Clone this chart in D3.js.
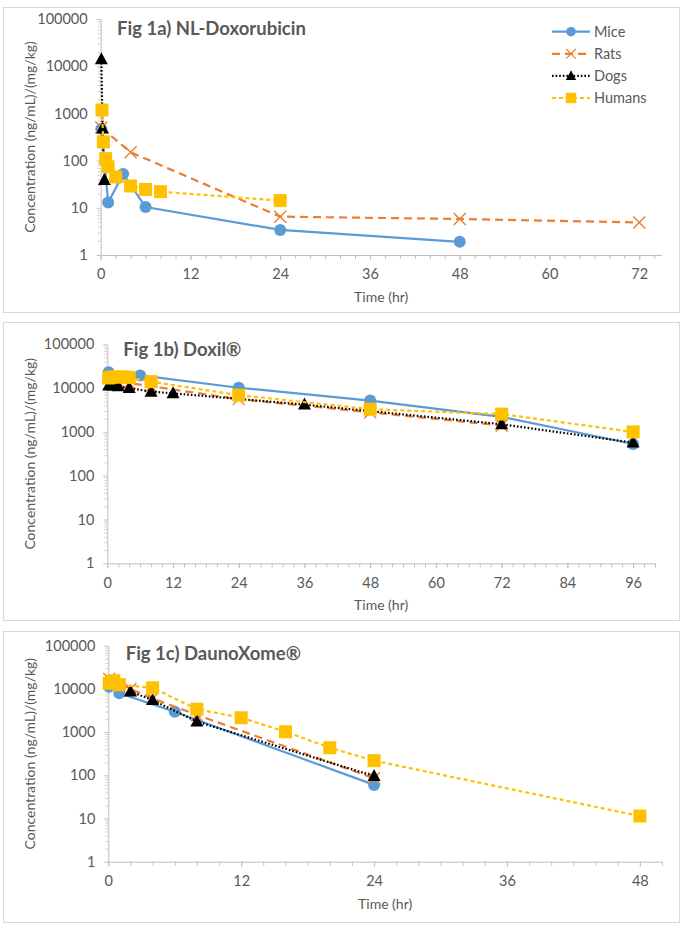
<!DOCTYPE html>
<html>
<head>
<meta charset="utf-8">
<script src="https://cdn.jsdelivr.net/npm/d3@7"></script>
<style>
  body { margin: 0; background: #fff; }
  svg text { font-family: Lato, "Open Sans", sans-serif; fill: #595959; }
</style>
</head>
<body>
<div id="chart"></div>
<script>
// Fig 1a) NL-Doxorubicin  -- [time (hr), concentration]
const nlDoxMice = [[0.083, 470], [1, 13], [3, 52], [6, 10.4], [24, 3.4], [48, 1.9]];
const nlDoxRats = [[0.083, 500], [4, 150], [24, 6.5], [48, 5.8], [72, 4.9]];
const nlDoxDogs = [[0.083, 14000], [0.25, 480], [0.5, 39]];
const nlDoxHumans = [[0.17, 1180], [0.35, 250], [0.67, 110], [1, 74], [2, 45], [4, 29], [6, 24.5], [8, 22], [24, 14.2]];

// Fig 1b) Doxil
const doxilMice = [[0.25, 23000], [6, 19500], [24, 10200], [48, 5200], [72, 2200], [96, 530]];
const doxilRats = [[0.25, 17000], [2, 14000], [4, 13000], [8, 11000], [24, 5600], [48, 2800], [72, 1400]];
const doxilDogs = [[0.25, 11500], [1, 11500], [2, 11000], [4, 10000], [8, 8300], [12, 7600], [36, 4200], [72, 1500], [96, 570]];
const doxilHumans = [[0.25, 17000], [0.5, 17500], [1, 18000], [2, 18000], [3, 18000], [4, 17500], [8, 14000], [24, 6900], [48, 3300], [72, 2550], [96, 1000]];

// Fig 1c) DaunoXome
const daunoMice = [[0.083, 11200], [1, 7900], [6, 2950], [24, 60]];
const daunoRats = [[0.083, 17000], [2, 10000], [4, 6000], [8, 2500], [24, 85]];
const daunoDogs = [[2, 8700], [4, 5500], [8, 1750], [24, 96]];
const daunoHumans = [[0.083, 13500], [0.5, 15500], [1, 12500], [4, 10600], [8, 3400], [12, 2150], [16, 1020], [20, 435], [24, 218], [48, 11.4]];

const speciesNames = ['Mice', 'Rats', 'Dogs', 'Humans'];
const yTickValues = [1, 10, 100, 1000, 10000, 100000];
const panelTitles = ['Fig 1a) NL-Doxorubicin', 'Fig 1b) Doxil®', 'Fig 1c) DaunoXome®'];
const xTickValuesA = [0, 12, 24, 36, 48, 60, 72];
const xTickValuesB = [0, 12, 24, 36, 48, 60, 72, 84, 96];
const xTickValuesC = [0, 12, 24, 36, 48];

const STYLES = {
  Mice: { color: '#5B9BD5', dash: null, width: 2.2, marker: 'circle' },
  Rats: { color: '#ED7D31', dash: '8,5', width: 2.2, marker: 'x' },
  Dogs: { color: '#000000', dash: '1.6,2', width: 2.2, marker: 'triangle' },
  Humans: { color: '#FFC000', dash: '4,3', width: 2.2, marker: 'square' }
};

const panels = [
  {
    title: panelTitles[0], box: [3, 7, 679, 312], xMax: 75, xTicks: xTickValuesA,
    plot: { left: 100.7, right: 661.7, top: 19, bottom: 255 },
    series: [nlDoxMice, nlDoxRats, nlDoxDogs, nlDoxHumans], legend: true,
    titlePos: [117, 34.5]
  },
  {
    title: panelTitles[1], box: [3, 322, 679, 620], xMax: 100, xTicks: xTickValuesB,
    plot: { left: 107.3, right: 655, top: 344.3, bottom: 563.3 },
    series: [doxilMice, doxilRats, doxilDogs, doxilHumans], legend: false,
    titlePos: [123.3, 356]
  },
  {
    title: panelTitles[2], box: [3, 631, 679, 922], xMax: 50, xTicks: xTickValuesC,
    plot: { left: 108.3, right: 662, top: 645.7, bottom: 861.7 },
    series: [daunoMice, daunoRats, daunoDogs, daunoHumans], legend: false,
    titlePos: [125.7, 660]
  }
];

const svg = d3.select('#chart').append('svg')
  .attr('width', 682)
  .attr('height', 925);

function drawMarker (sel, kind, color) {
  if (kind === 'circle') {
    sel.append('circle').attr('r', 6).attr('fill', color);
  } else if (kind === 'square') {
    sel.append('rect').attr('x', -6.5).attr('y', -6.5).attr('width', 13).attr('height', 13).attr('fill', color);
  } else if (kind === 'triangle') {
    sel.append('path').attr('d', 'M0,-7L6.5,5L-6.5,5Z').attr('fill', color);
  } else if (kind === 'x') {
    sel.append('path').attr('d', 'M-6,-6L6,6M-6,6L6,-6')
      .attr('stroke', color).attr('stroke-width', 1.4).attr('fill', 'none');
  }
}

panels.forEach((p) => {
  const g = svg.append('g');
  const [bx0, by0, bx1, by1] = p.box;

  g.append('rect')
    .attr('x', bx0 + 0.5).attr('y', by0 + 0.5)
    .attr('width', bx1 - bx0).attr('height', by1 - by0)
    .attr('fill', '#fff').attr('stroke', '#D9D9D9').attr('stroke-width', 1);

  const x = d3.scaleLinear().domain([0, p.xMax]).range([p.plot.left, p.plot.right]);
  const y = d3.scaleLog().domain([1, 100000]).range([p.plot.bottom, p.plot.top]);

  // minor ticks on x every 2 hr
  const xMinor = d3.range(0, p.xMax + 0.001, 2);
  g.append('g')
    .attr('transform', `translate(0,${p.plot.bottom})`)
    .call(d3.axisBottom(x).tickValues(xMinor).tickSize(4).tickFormat(''))
    .call((a) => a.select('.domain').remove())
    .call((a) => a.selectAll('line').attr('stroke', '#BFBFBF'));

  const xAxis = g.append('g')
    .attr('transform', `translate(0,${p.plot.bottom})`)
    .call(d3.axisBottom(x).tickValues(p.xTicks).tickSize(5).tickSizeOuter(0).tickPadding(9));
  xAxis.select('.domain').attr('stroke', '#BFBFBF');
  xAxis.selectAll('line').attr('stroke', '#BFBFBF');
  xAxis.selectAll('text').style('font-size', '14.5px').attr('fill', '#595959');

  // minor log ticks on y
  const yMinor = [];
  for (let d = 1; d < 100000; d *= 10) {
    for (let k = 2; k <= 9; k++) yMinor.push(d * k);
  }
  g.append('g')
    .attr('transform', `translate(${p.plot.left},0)`)
    .call(d3.axisLeft(y).tickValues(yMinor).tickSize(3).tickFormat(''))
    .call((a) => a.select('.domain').remove())
    .call((a) => a.selectAll('line').attr('stroke', '#D0D0D0'));

  const yAxis = g.append('g')
    .attr('transform', `translate(${p.plot.left},0)`)
    .call(d3.axisLeft(y).tickValues(yTickValues).tickSize(4).tickSizeOuter(0).tickPadding(9).tickFormat(d3.format('d')));
  yAxis.select('.domain').attr('stroke', '#BFBFBF');
  yAxis.selectAll('line').attr('stroke', '#BFBFBF');
  yAxis.selectAll('text').style('font-size', '14.5px').attr('fill', '#595959');

  // axis titles
  g.append('text')
    .attr('x', (p.plot.left + p.plot.right) / 2)
    .attr('y', p.plot.bottom + 47)
    .attr('text-anchor', 'middle')
    .style('font-size', '14px')
    .text('Time (hr)');

  g.append('text')
    .attr('transform', `translate(35,${(p.plot.top + p.plot.bottom) / 2})rotate(-90)`)
    .attr('text-anchor', 'middle')
    .style('font-size', '14px')
    .text('Concentration (ng/mL)/(mg/kg)');

  // chart title
  g.append('text')
    .attr('x', p.titlePos[0]).attr('y', p.titlePos[1])
    .style('font-size', '18.5px').style('font-weight', 'bold')
    .text(p.title);

  const line = d3.line().x((d) => x(d[0])).y((d) => y(d[1]));

  p.series.forEach((data, i) => {
    const st = STYLES[speciesNames[i]];
    const sg = g.append('g');
    sg.append('path')
      .datum(data)
      .attr('d', line)
      .attr('fill', 'none')
      .attr('stroke', st.color)
      .attr('stroke-width', st.width)
      .attr('stroke-dasharray', st.dash);
    sg.selectAll('g.mk')
      .data(data)
      .enter()
      .append('g')
      .attr('class', 'mk')
      .attr('transform', (d) => `translate(${x(d[0])},${y(d[1])})`)
      .each(function () { drawMarker(d3.select(this), st.marker, st.color); });
  });

  if (p.legend) {
    const lg = g.append('g');
    speciesNames.forEach((name, i) => {
      const st = STYLES[name];
      const yy = 31.7 + i * 22.1;
      lg.append('line')
        .attr('x1', 552).attr('x2', 590).attr('y1', yy).attr('y2', yy)
        .attr('stroke', st.color).attr('stroke-width', st.width)
        .attr('stroke-dasharray', st.dash);
      const m = lg.append('g').attr('transform', `translate(571,${yy}) scale(0.8)`);
      drawMarker(m, st.marker, st.color);
      lg.append('text')
        .attr('x', 594).attr('y', yy + 5)
        .style('font-size', '14.5px')
        .text(name);
    });
  }
});
</script>
</body>
</html>
